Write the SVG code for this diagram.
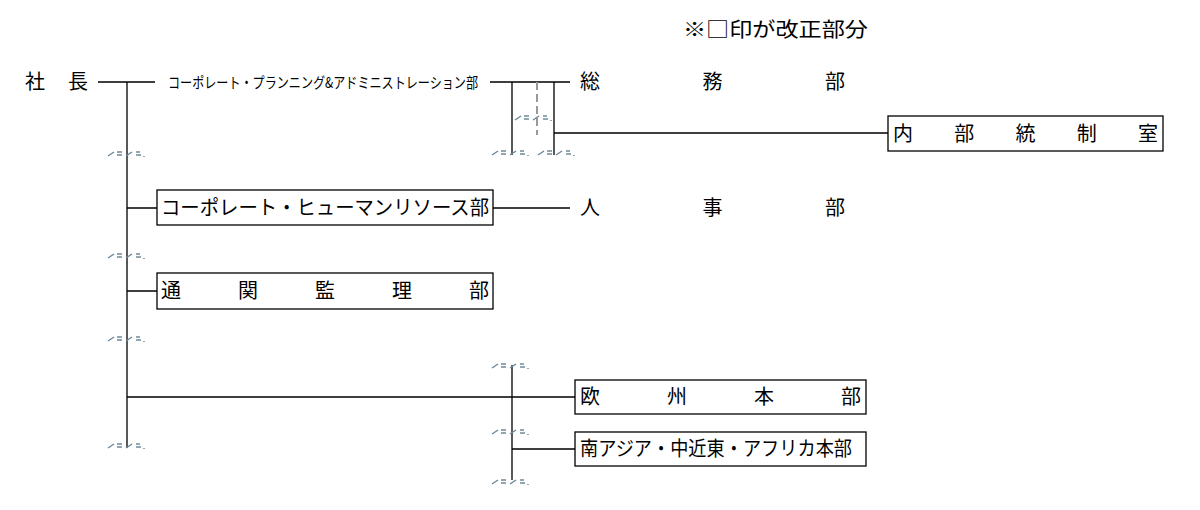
<svg xmlns="http://www.w3.org/2000/svg" width="1200" height="510" viewBox="0 0 1200 510">
<style>
text{font-family:"Noto Sans CJK JP","Liberation Sans",sans-serif;font-size:20px;fill:#000}
.l{stroke:#000;stroke-width:1.3;fill:none}
.b{fill:#fff;stroke:#000;stroke-width:1.3}
.s{stroke:#6f8a9c;stroke-width:1.5;fill:none}
</style>
<defs>
<g id="sq"><path class="s" d="M0 4l6-4M9 0h5M9 3h5M18 4l6-4M28 0h4M28 3h5M36 4v1"/></g>
</defs>
<rect width="1200" height="510" fill="#fff"/>
<text x="683" y="37" textLength="185" lengthAdjust="spacingAndGlyphs">※□印が改正部分</text>
<g id="connectors">
<path class="l" d="M98 82H155M127 82V448M127 208H157M127 291H157M127 397H575M490 82H570M512 82V155M554 82V155M554 133H888M493 208H570M512 365V480M512 449H575"/>
<path d="M537 82V135" stroke="#999" stroke-width="2" stroke-dasharray="8,4" fill="none"/>
</g>
<g id="marks">
<use href="#sq" x="108" y="152"/><use href="#sq" x="108" y="254"/><use href="#sq" x="108" y="337"/><use href="#sq" x="108" y="444"/>
<use href="#sq" x="492" y="151"/><use href="#sq" x="538" y="151"/><use href="#sq" x="515" y="116"/>
<use href="#sq" x="492" y="364"/><use href="#sq" x="492" y="430"/><use href="#sq" x="492" y="480"/>
</g>
<g id="president"><text x="25" y="89" textLength="63" lengthAdjust="spacing">社 長</text></g>
<g id="cpa"><text x="168" y="88" style="font-size:15px" textLength="310" lengthAdjust="spacingAndGlyphs">コーポレート・プランニング&amp;アドミニストレーション部</text></g>
<g id="somu"><text x="580" y="89" textLength="265" lengthAdjust="spacing">総 務 部</text></g>
<g id="naibu"><rect class="b" x="888" y="116" width="275" height="35"/><text x="893" y="141" textLength="265" lengthAdjust="spacing">内部統制室</text></g>
<g id="chr"><rect class="b" x="157" y="190" width="336" height="35"/><text x="161" y="215" textLength="328" lengthAdjust="spacingAndGlyphs">コーポレート・ヒューマンリソース部</text></g>
<g id="jinji"><text x="580" y="215" textLength="265" lengthAdjust="spacing">人 事 部</text></g>
<g id="tsukan"><rect class="b" x="157" y="273" width="336" height="36"/><text x="161" y="298" textLength="328" lengthAdjust="spacing">通関監理部</text></g>
<g id="europe"><rect class="b" x="575" y="380" width="291" height="34"/><text x="580" y="404" textLength="281" lengthAdjust="spacing">欧州本部</text></g>
<g id="sasia"><rect class="b" x="575" y="432" width="291" height="34"/><text x="580" y="456" textLength="272" lengthAdjust="spacingAndGlyphs">南アジア・中近東・アフリカ本部</text></g>
</svg>
